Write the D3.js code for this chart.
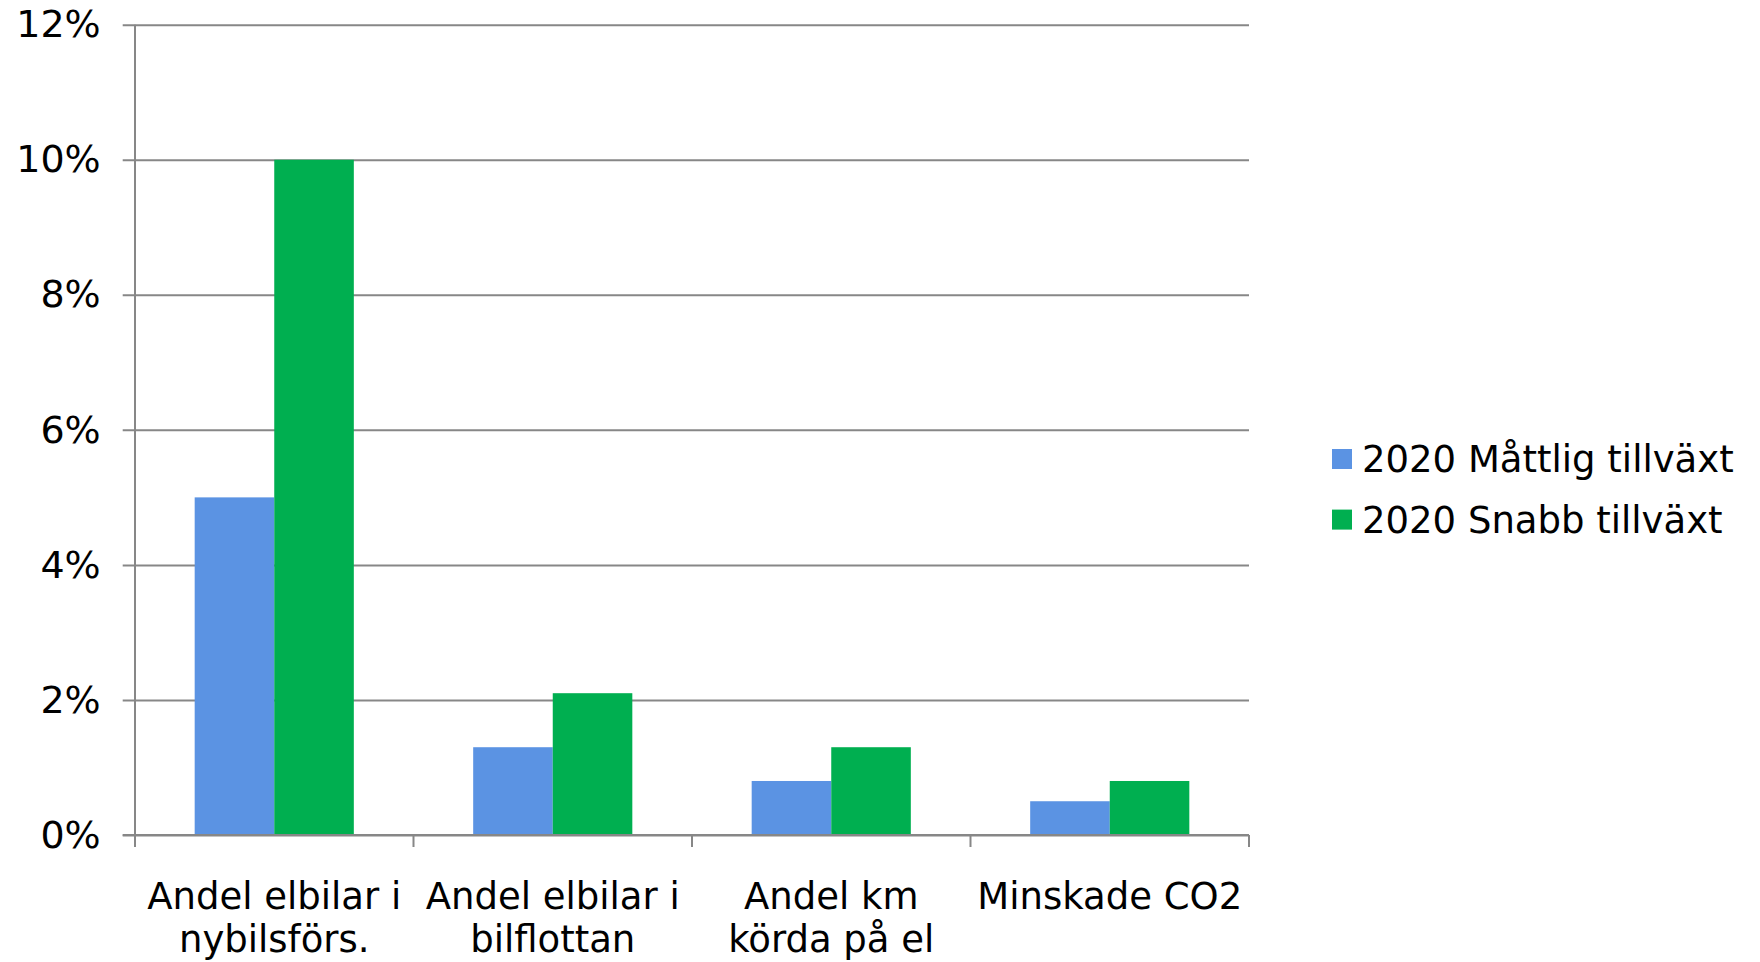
<!DOCTYPE html>
<html>
<head>
<meta charset="utf-8">
<script src="https://cdn.jsdelivr.net/npm/d3@7"></script>
<style>
  html, body { margin: 0; padding: 0; background: #ffffff; }
  svg { display: block; font-family: "DejaVu Sans", Verdana, sans-serif; }
</style>
</head>
<body>
<svg id="chart" width="1760" height="962"></svg>
<script>
// Categories (each label split into its display lines)
const categories = [
  ["Andel elbilar i", "nybilsförs."],
  ["Andel elbilar i", "bilflottan"],
  ["Andel km", "körda på el"],
  ["Minskade CO2"]
];
const seriesNames = ["2020 Måttlig tillväxt", "2020 Snabb tillväxt"];
const seriesColors = ["#5B93E3", "#00AF50"];
const moderate = [0.05, 0.013, 0.008, 0.005];
const rapid = [0.10, 0.021, 0.013, 0.008];
const yTicks = [0, 0.02, 0.04, 0.06, 0.08, 0.10, 0.12];

const series = [moderate, rapid];
const catKeys = categories.map(c => c.join(" "));

const svg = d3.select("#chart");
const plotLeft = 135, plotRight = 1249, plotTop = 24.7, plotBottom = 835;
const gridColor = "#878787";

const x0 = d3.scaleBand().domain(catKeys).range([plotLeft, plotRight]).padding(0);
const W = x0.bandwidth();
const barW = W / 3.5;
const x1 = d3.scaleBand().domain(seriesNames).range([0.75 * barW, W - 0.75 * barW]).padding(0);
const y = d3.scaleLinear().domain([0, 0.12]).range([plotBottom, plotTop]);

// Horizontal gridlines with tick labels on the left
const tickExt = 12.3;
const yAxis = d3.axisLeft(y)
  .tickValues(yTicks)
  .tickFormat(d3.format(".0%"))
  .tickSize(plotRight - plotLeft + tickExt)
  .tickPadding(22);
const gy = svg.append("g").attr("transform", `translate(${plotRight},0)`).call(yAxis);
gy.select(".domain").remove();
gy.selectAll(".tick line").attr("stroke", gridColor).attr("stroke-width", 2);
gy.selectAll(".tick text")
  .attr("fill", "#000")
  .style("font-size", "38px")
  .style("font-family", "'DejaVu Sans', Verdana, sans-serif");

// Bars
const groups = svg.append("g").selectAll("g")
  .data(catKeys)
  .join("g")
  .attr("transform", d => `translate(${x0(d)},0)`);
groups.selectAll("rect")
  .data((d, i) => seriesNames.map((s, j) => ({ s, j, v: series[j][i] })))
  .join("rect")
  .attr("x", d => x1(d.s))
  .attr("width", x1.bandwidth())
  .attr("y", d => y(d.v))
  .attr("height", d => y(0) - y(d.v))
  .attr("fill", d => seriesColors[d.j]);

// Vertical axis line
svg.append("line")
  .attr("x1", plotLeft).attr("x2", plotLeft)
  .attr("y1", y(0.12)).attr("y2", y(0))
  .attr("stroke", gridColor).attr("stroke-width", 2);

// Horizontal axis line and category boundary ticks
svg.append("line")
  .attr("x1", plotLeft - tickExt).attr("x2", plotRight)
  .attr("y1", y(0)).attr("y2", y(0))
  .attr("stroke", gridColor).attr("stroke-width", 2);
const bounds = catKeys.map(k => x0(k)).concat([plotRight]);
svg.append("g").selectAll("line")
  .data(bounds)
  .join("line")
  .attr("x1", d => d).attr("x2", d => d)
  .attr("y1", y(0)).attr("y2", y(0) + 12)
  .attr("stroke", gridColor).attr("stroke-width", 2);

// Category labels
const labels = svg.append("g").selectAll("text")
  .data(categories)
  .join("text")
  .attr("text-anchor", "middle")
  .attr("fill", "#000")
  .style("font-size", "37px");
labels.selectAll("tspan")
  .data((d, i) => d.map(line => ({ line, i })))
  .join("tspan")
  .attr("x", d => x0(catKeys[d.i]) + W / 2)
  .attr("y", (d, k) => 909 + k * 43)
  .text(d => d.line);

// Legend
const legend = svg.append("g").selectAll("g")
  .data(seriesNames)
  .join("g")
  .attr("transform", (d, i) => `translate(1332,${459 + i * 60.6})`);
legend.append("rect")
  .attr("x", 0).attr("y", -10)
  .attr("width", 20).attr("height", 20)
  .attr("fill", (d, i) => seriesColors[i]);
legend.append("text")
  .attr("x", 30).attr("y", 0)
  .attr("dy", "0.35em")
  .attr("fill", "#000")
  .style("font-size", "37px")
  .text(d => d);
</script>
</body>
</html>
